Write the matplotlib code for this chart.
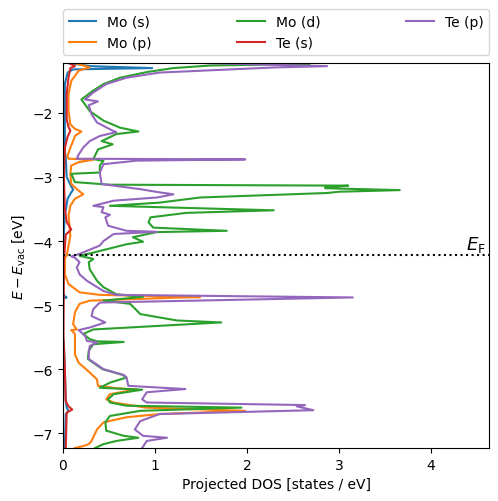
import numpy as np
import matplotlib
matplotlib.use("Agg")
import matplotlib.pyplot as plt

# energies (eV, relative to vacuum) and projected DOS
mo_s_E = [-1.22, -1.27, -1.30, -1.32, -1.37, -1.55, -2.6, -2.7, -3.0, -3.12, -3.2, -3.24,
          -3.34, -3.6, -3.85, -4.8, -4.86, -4.88, -4.9, -5.5, -5.6, -6.0, -6.5, -6.6,
          -6.65, -6.7, -7.23]
mo_s_D = [0.05, 0.3, 0.97, 0.11, 0.05, 0.02, 0.02, 0.03, 0.04, 0.08, 0.11, 0.09,
          0.05, 0.02, 0.01, 0.0, 0.02, 0.04, 0.0, 0.0, 0.01, 0.02, 0.03, 0.04,
          0.06, 0.03, 0.02]

mo_p_E = [-1.22, -1.25, -1.29, -1.34, -1.50, -1.71, -1.97, -2.18, -2.25, -2.29, -2.36,
          -2.44, -2.54, -2.67, -2.715, -2.73, -2.77, -2.82, -2.95, -3.11, -3.19, -3.27,
          -3.34, -3.45, -3.60, -3.92, -4.07, -4.23, -4.26, -4.52, -4.67, -4.80, -4.84,
          -4.875, -4.885, -4.93, -4.98, -5.11, -5.30, -5.38, -5.39, -5.45, -5.77, -5.90,
          -6.05, -6.16, -6.26, -6.30, -6.315, -6.39, -6.47, -6.52, -6.60, -6.65, -6.70,
          -6.75, -6.83, -6.94, -7.12, -7.17, -7.20, -7.23]
mo_p_D = [0.12, 0.2, 0.29, 0.17, 0.09, 0.06, 0.06, 0.08, 0.13, 0.20, 0.13,
          0.11, 0.08, 0.05, 0.06, 0.33, 0.17, 0.09, 0.08, 0.09, 0.15, 0.22,
          0.13, 0.08, 0.06, 0.08, 0.06, 0.04, 0.02, 0.02, 0.06, 0.18, 0.40,
          1.49, 1.2, 0.29, 0.18, 0.13, 0.11, 0.15, 0.09, 0.13, 0.13, 0.17,
          0.29, 0.37, 0.38, 0.6, 0.80, 0.51, 0.47, 0.55, 0.9, 1.98, 1.05,
          0.69, 0.44, 0.37, 0.31, 0.28, 0.22, 0.13]

mo_d_E = [-1.22, -1.235, -1.26, -1.30, -1.36, -1.45, -1.55, -1.66, -1.79, -1.97, -2.12,
          -2.23, -2.29, -2.33, -2.44, -2.49, -2.57, -2.72, -2.75, -2.82, -2.93, -2.95,
          -3.08, -3.12, -3.135, -3.16, -3.175, -3.205, -3.23, -3.25, -3.32, -3.40, -3.45,
          -3.52, -3.56, -3.63, -3.71, -3.79, -3.84, -3.86, -3.94, -4.01, -4.05, -4.18,
          -4.23, -4.28, -4.33, -4.44, -4.62, -4.72, -4.83, -4.87, -4.93, -4.98, -5.14,
          -5.24, -5.27, -5.38, -5.45, -5.53, -5.565, -5.575, -5.61, -5.71, -5.84, -6.0,
          -6.09, -6.13, -6.21, -6.29, -6.32, -6.39, -6.47, -6.52, -6.57, -6.60, -6.65,
          -6.73, -6.83, -6.96, -7.04, -7.07, -7.12, -7.17, -7.23]
mo_d_D = [2.3, 2.68, 1.6, 1.2, 0.92, 0.62, 0.44, 0.32, 0.20, 0.29, 0.44,
          0.62, 0.82, 0.58, 0.42, 0.54, 0.38, 0.33, 0.44, 0.40, 0.40, 0.09,
          0.13, 0.5, 3.1, 2.85, 2.85, 3.66, 3.0, 2.87, 1.49, 1.05, 0.51,
          2.29, 1.34, 0.95, 0.93, 0.98, 1.78, 1.02, 0.76, 0.87, 0.69, 0.33,
          0.18, 0.33, 0.28, 0.29, 0.37, 0.44, 0.58, 0.87, 0.44, 0.73, 0.84,
          1.24, 1.72, 0.33, 0.22, 0.29, 0.37, 0.66, 0.33, 0.28, 0.27, 0.43,
          0.65, 0.69, 0.51, 0.40, 0.86, 0.55, 0.49, 0.51, 0.69, 1.94, 0.84,
          0.51, 0.46, 0.47, 0.66, 0.82, 0.58, 0.44, 0.35]

te_s_E = [-1.22, -1.27, -1.30, -1.45, -1.7, -2.1, -2.22, -2.28, -2.37, -2.55, -3.0, -3.5,
          -3.7, -3.82, -3.9, -4.3, -5.5, -6.0, -6.5, -6.58, -6.63, -6.68, -7.23]
te_s_D = [0.06, 0.13, 0.08, 0.06, 0.04, 0.04, 0.06, 0.08, 0.05, 0.02, 0.01, 0.02,
          0.04, 0.09, 0.03, 0.01, 0.005, 0.02, 0.03, 0.06, 0.10, 0.04, 0.03]

te_p_E = [-1.22, -1.27, -1.29, -1.37, -1.45, -1.55, -1.68, -1.79, -1.82, -1.88, -2.02,
          -2.15, -2.27, -2.30, -2.36, -2.44, -2.54, -2.65, -2.715, -2.725, -2.745, -2.80,
          -2.93, -3.11, -3.19, -3.24, -3.27, -3.32, -3.37, -3.45, -3.47, -3.55, -3.59,
          -3.63, -3.76, -3.84, -3.855, -3.89, -4.0, -4.07, -4.20, -4.24, -4.26, -4.33,
          -4.41, -4.52, -4.62, -4.78, -4.84, -4.88, -4.96, -5.06, -5.17, -5.27, -5.35,
          -5.39, -5.48, -5.56, -5.58, -5.64, -5.77, -5.84, -6.0, -6.09, -6.13, -6.26,
          -6.31, -6.36, -6.47, -6.52, -6.56, -6.58, -6.64, -6.70, -6.81, -6.94, -7.04,
          -7.07, -7.12, -7.23]
te_p_D = [1.5, 2.87, 2.3, 1.05, 0.69, 0.47, 0.33, 0.24, 0.38, 0.28, 0.31,
          0.37, 0.53, 0.58, 0.40, 0.29, 0.22, 0.17, 0.15, 1.98, 0.8, 0.44,
          0.40, 0.42, 0.84, 1.05, 1.2, 1.02, 0.55, 0.33, 0.44, 0.42, 0.51,
          0.46, 0.49, 0.69, 1.02, 0.55, 0.44, 0.40, 0.18, 0.09, 0.13, 0.18,
          0.15, 0.18, 0.26, 0.44, 0.58, 3.15, 0.40, 0.33, 0.31, 0.46, 0.29,
          0.17, 0.24, 0.26, 0.37, 0.29, 0.28, 0.28, 0.44, 0.66, 0.69, 0.71,
          1.33, 0.91, 0.86, 0.91, 2.63, 2.54, 2.72, 1.05, 0.84, 0.78, 0.87,
          1.13, 0.91, 0.86]

E_fermi = -4.22

series = [
    ("Mo (s)", mo_s_E, mo_s_D),
    ("Mo (p)", mo_p_E, mo_p_D),
    ("Mo (d)", mo_d_E, mo_d_D),
    ("Te (s)", te_s_E, te_s_D),
    ("Te (p)", te_p_E, te_p_D),
]

fig = plt.figure(figsize=(4.98, 5.02), dpi=100)
ax = fig.add_axes([0.1265, 0.1056, 0.8555, 0.767])

for label, E, D in series:
    ax.plot(D, E, label=label, lw=1.5)

ax.axhline(E_fermi, color="k", ls=":", lw=1.5)
ax.text(4.6, E_fermi + 0.02, r"$E_\mathrm{F}$", ha="right", va="bottom", fontsize=13)

ax.set_xlim(0, 4.63)
ax.set_ylim(-7.23, -1.22)
ax.set_xlabel("Projected DOS [states / eV]")
ax.set_ylabel(r"$E - E_\mathrm{vac}$ [eV]")

ax.legend(bbox_to_anchor=(0, 1.02, 1, 0.2), loc="lower left", mode="expand",
          borderaxespad=0, ncol=3)

fig.savefig("out.png", dpi=100)
